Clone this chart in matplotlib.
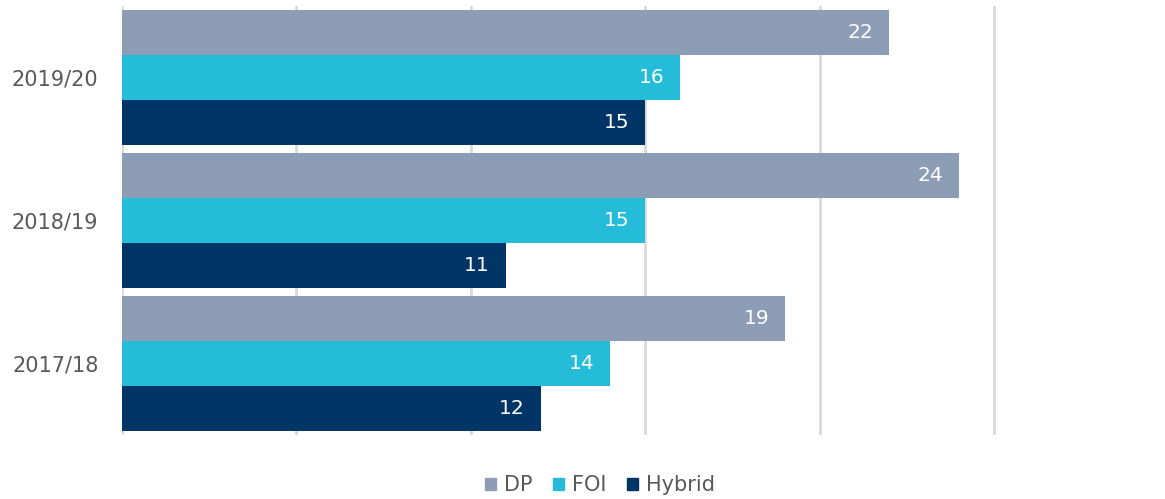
import numpy as np
import matplotlib.pyplot as plt
from matplotlib.patches import Patch

# data
years = ["2017/18", "2018/19", "2019/20"]
dp = [19, 24, 22]
foi = [14, 15, 16]
hybrid = [12, 11, 15]

series = [("DP", dp, "#8C9DB5"), ("FOI", foi, "#25BCD9"), ("Hybrid", hybrid, "#003566")]

fig = plt.figure(figsize=(11.65, 4.99), dpi=100)
ax = fig.add_axes([122 / 1165, 1 - 434.5 / 499, 1 - 122 / 1165, 428.5 / 499])

y = np.arange(len(years))
h = 0.315
offsets = [h, 0, -h]

for (name, vals, col), off in zip(series, offsets):
    bars = ax.barh(y + off, vals, height=h, color=col, label=name, zorder=3)
    for b, v in zip(bars, vals):
        ax.text(b.get_width() - 0.45, b.get_y() + h / 2, str(v),
                ha="right", va="center", color="white", fontsize=14.5, zorder=4)

ax.set_xlim(0, 29.9)
ax.set_ylim(-0.5, 2.5)
ax.set_xticks(np.arange(0, 30, 5))
ax.set_xticklabels([])
ax.set_yticks(y)
ax.set_yticklabels(years, fontsize=15, color="#595959")
ax.tick_params(length=0, pad=17)
ax.grid(axis="x", color="#D9D9D9", linewidth=2, zorder=0)
for s in ax.spines.values():
    s.set_visible(False)

handles = [Patch(color=c, label=n) for n, _, c in series]
fig.legend(handles=handles, loc="center", bbox_to_anchor=(600 / 1165, 1 - 485 / 499),
           ncol=3, frameon=False, fontsize=15, labelcolor="#595959",
           handlelength=0.5, handleheight=0.5, handletextpad=0.4, columnspacing=1.0)

fig.savefig("out.png", dpi=100)
